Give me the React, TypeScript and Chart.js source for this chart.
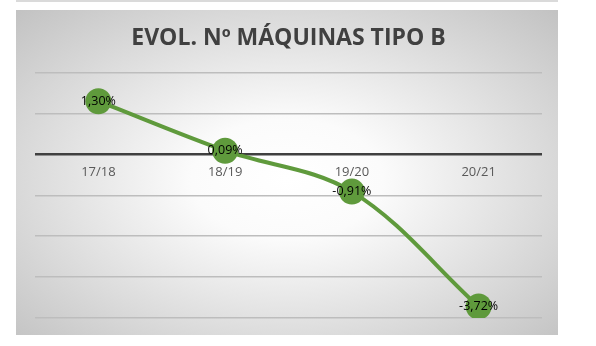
import React, { useEffect, useRef } from "react";
import { Chart, registerables } from "chart.js";

Chart.register(...registerables);

const chartTitle = "EVOL. Nº MÁQUINAS TIPO B";
const categories = ["17/18", "18/19", "19/20", "20/21"];
const values = [1.3, 0.09, -0.91, -3.72];
const valueLabels = ["1,30%", "0,09%", "-0,91%", "-3,72%"];
const yMin = -4;
const yMax = 2;
const yStep = 1;

const GREEN = "#5f9a3c";

const categoryLabelsPlugin = {
  id: "categoryLabels",
  beforeDatasetsDraw(chart: any) {
    const { ctx, scales } = chart;
    const x = scales.x;
    const y = scales.y;
    const y0 = y.getPixelForValue(0);
    ctx.save();
    ctx.font = '13px "Open Sans"';
    ctx.fillStyle = "#595959";
    ctx.textAlign = "center";
    ctx.textBaseline = "middle";
    categories.forEach((c, i) => {
      ctx.fillText(c, x.getPixelForValue(i), y0 + 17.5);
    });
    ctx.restore();
  },
};

const valueLabelsPlugin = {
  id: "valueLabels",
  afterDatasetsDraw(chart: any) {
    const { ctx } = chart;
    const meta = chart.getDatasetMeta(0);
    ctx.save();
    ctx.font = '12.5px "Open Sans"';
    ctx.fillStyle = "#000000";
    ctx.textAlign = "center";
    ctx.textBaseline = "middle";
    meta.data.forEach((pt: any, i: number) => {
      ctx.fillText(valueLabels[i], pt.x, pt.y);
    });
    ctx.restore();
  },
};

export default function App() {
  const canvasRef = useRef<HTMLCanvasElement | null>(null);

  useEffect(() => {
    if (!canvasRef.current) return;
    const chart = new Chart(canvasRef.current, {
      type: "line",
      data: {
        labels: categories,
        datasets: [
          {
            data: values,
            borderColor: GREEN,
            backgroundColor: GREEN,
            borderWidth: 4,
            pointRadius: 13,
            pointHoverRadius: 13,
            pointBackgroundColor: GREEN,
            pointBorderColor: GREEN,
            pointBorderWidth: 0,
            tension: 0.35,
            fill: false,
          },
        ],
      },
      options: {
        animation: false,
        responsive: false,
        events: [],
        layout: { padding: { left: 19, right: 16, bottom: 17, top: 0 } },
        plugins: {
          legend: { display: false },
          tooltip: { enabled: false },
          title: {
            display: true,
            text: chartTitle,
            color: "#404040",
            font: { family: "'Open Sans'", size: 23, weight: "bold" },
            padding: { top: 15, bottom: 20 },
          },
        },
        scales: {
          x: {
            type: "category",
            display: false,
            offset: true,
          },
          y: {
            min: yMin,
            max: yMax,
            display: true,
            ticks: { display: false, stepSize: yStep },
            border: { display: false },
            grid: {
              drawTicks: false,
              color: (ctx: any) => (ctx.tick && ctx.tick.value === 0 ? "#404040" : "#bdbdbd"),
              lineWidth: (ctx: any) => (ctx.tick && ctx.tick.value === 0 ? 2.5 : 1.5),
            },
          },
        },
      },
      plugins: [categoryLabelsPlugin, valueLabelsPlugin],
    });
    return () => chart.destroy();
  }, []);

  return (
    <div>
      <div
        style={{
          position: "absolute",
          left: 16,
          top: 0,
          width: 542,
          height: 2,
          background: "#dadada",
        }}
      />
      <div
        style={{
          position: "absolute",
          left: 16,
          top: 10,
          width: 542,
          height: 325,
          background:
            "radial-gradient(ellipse farthest-corner at 50% 52%, #ffffff 0%, #fbfbfb 25%, #c2c2c2 100%)",
        }}
      >
        <canvas ref={canvasRef} width={542} height={325} style={{ display: "block", width: 542, height: 325 }} />
      </div>
    </div>
  );
}
